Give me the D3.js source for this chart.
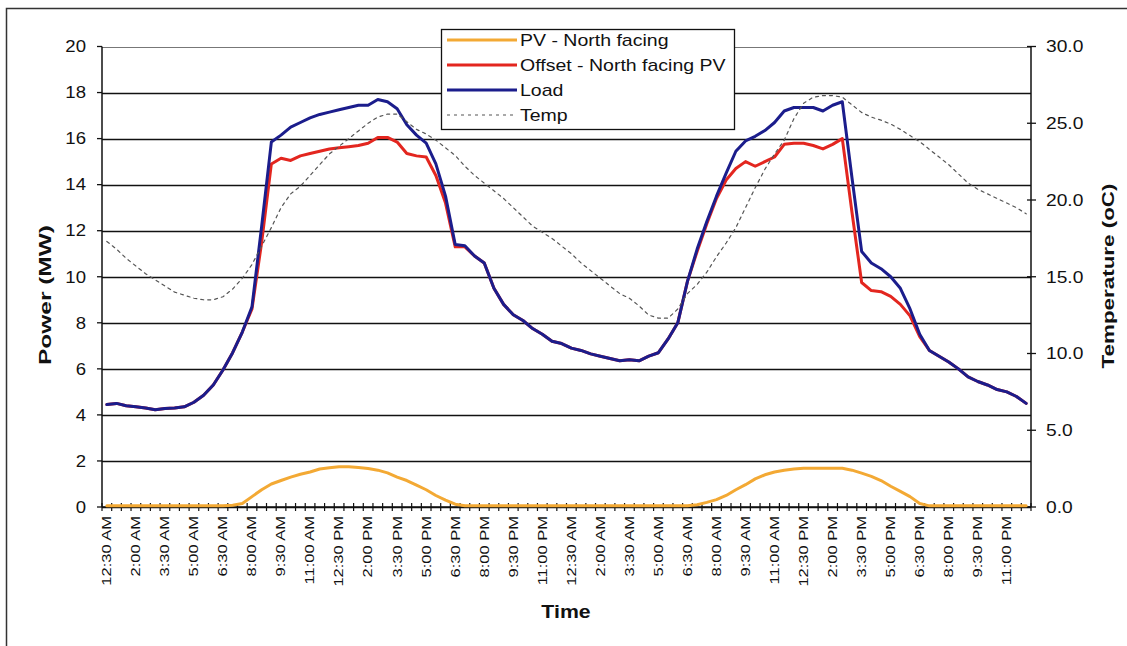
<!DOCTYPE html>
<html>
<head>
<meta charset="utf-8">
<script src="https://cdn.jsdelivr.net/npm/d3@7"></script>
<style>
  body { margin: 0; background: #fff; }
  svg { display: block; }
  text { font-family: "Liberation Sans", Arial, sans-serif; fill: #111; }
</style>
</head>
<body>
<svg id="chart" width="1127" height="646"></svg>
<script>
// Half-hourly readings over two days, starting 12:30 AM.
const tickLabels = [
  "12:30 AM", "2:00 AM", "3:30 AM", "5:00 AM", "6:30 AM", "8:00 AM", "9:30 AM", "11:00 AM",
  "12:30 PM", "2:00 PM", "3:30 PM", "5:00 PM", "6:30 PM", "8:00 PM", "9:30 PM", "11:00 PM",
  "12:30 AM", "2:00 AM", "3:30 AM", "5:00 AM", "6:30 AM", "8:00 AM", "9:30 AM", "11:00 AM",
  "12:30 PM", "2:00 PM", "3:30 PM", "5:00 PM", "6:30 PM", "8:00 PM", "9:30 PM", "11:00 PM"
];

// PV output, north facing (MW)
const pvNorth = [
  0.05, 0.05, 0.05, 0.05, 0.05, 0.05, 0.05, 0.05, 0.05, 0.05,
  0.05, 0.05, 0.05, 0.08, 0.15, 0.45, 0.75, 1.0, 1.15, 1.3,
  1.42, 1.52, 1.65, 1.7, 1.75, 1.75, 1.72, 1.67, 1.6, 1.48,
  1.3, 1.15, 0.95, 0.75, 0.5, 0.3, 0.12, 0.05, 0.05, 0.05,
  0.05, 0.05, 0.05, 0.05, 0.05, 0.05, 0.05, 0.05, 0.05, 0.05,
  0.05, 0.05, 0.05, 0.05, 0.05, 0.05, 0.05, 0.05, 0.05, 0.05,
  0.05, 0.1, 0.2, 0.32, 0.5, 0.75, 0.97, 1.22, 1.4, 1.52,
  1.6, 1.65, 1.68, 1.68, 1.68, 1.68, 1.68, 1.6, 1.47, 1.33,
  1.15, 0.9, 0.68, 0.45, 0.15, 0.05, 0.05, 0.05, 0.05, 0.05,
  0.05, 0.05, 0.05, 0.05, 0.05, 0.05
];

// Load less north facing PV (MW)
const offsetNorth = [
  4.45, 4.5, 4.4, 4.35, 4.3, 4.22, 4.28, 4.3, 4.35, 4.55,
  4.85, 5.3, 5.95, 6.7, 7.6, 8.6, 11.5, 14.9, 15.15, 15.05,
  15.25, 15.35, 15.45, 15.55, 15.6, 15.65, 15.7, 15.8, 16.05, 16.05,
  15.85, 15.35, 15.25, 15.2, 14.4, 13.2, 11.3, 11.3, 10.9, 10.6,
  9.5, 8.8, 8.35, 8.1, 7.75, 7.5, 7.2, 7.1, 6.9, 6.8,
  6.65, 6.55, 6.45, 6.35, 6.4, 6.35, 6.55, 6.7, 7.3, 8.0,
  9.8, 11.1, 12.3, 13.4, 14.2, 14.7, 15.0, 14.8, 15.0, 15.2,
  15.75, 15.8, 15.8, 15.7, 15.55, 15.75, 16.0, 12.8, 9.75, 9.4,
  9.35, 9.15, 8.8, 8.3, 7.4, 6.8, 6.55, 6.3, 6.0, 5.65,
  5.45, 5.3, 5.1, 5.0, 4.8, 4.5
];

// Total load (MW)
const load = [
  4.45, 4.5, 4.4, 4.35, 4.3, 4.22, 4.28, 4.3, 4.35, 4.55,
  4.85, 5.3, 5.95, 6.7, 7.6, 8.7, 12.2, 15.85, 16.15, 16.5,
  16.7, 16.9, 17.05, 17.15, 17.25, 17.35, 17.45, 17.45, 17.7, 17.6,
  17.3, 16.6, 16.15, 15.8, 14.9, 13.5, 11.4, 11.35, 10.9, 10.6,
  9.5, 8.8, 8.35, 8.1, 7.75, 7.5, 7.2, 7.1, 6.9, 6.8,
  6.65, 6.55, 6.45, 6.35, 6.4, 6.35, 6.55, 6.7, 7.3, 8.0,
  9.8, 11.2, 12.4, 13.5, 14.5, 15.45, 15.9, 16.1, 16.35, 16.7,
  17.2, 17.35, 17.35, 17.35, 17.2, 17.45, 17.6, 14.3, 11.1, 10.6,
  10.35, 10.0, 9.5, 8.6, 7.5, 6.8, 6.55, 6.3, 6.0, 5.65,
  5.45, 5.3, 5.1, 5.0, 4.8, 4.5
];

// Ambient temperature (oC), secondary axis
const temp = [
  17.3, 16.8, 16.2, 15.7, 15.2, 14.8, 14.4, 14.0, 13.8, 13.6,
  13.5, 13.5, 13.7, 14.2, 14.9, 15.8, 17.0, 18.2, 19.5, 20.4,
  20.9, 21.6, 22.3, 23.0, 23.5, 24.0, 24.5, 25.0, 25.4, 25.6,
  25.6, 25.1, 24.6, 24.3, 23.9, 23.4, 22.9, 22.2, 21.6, 21.1,
  20.6, 20.1, 19.5, 18.9, 18.3, 17.9, 17.5, 17.0, 16.5, 15.9,
  15.4, 14.9, 14.4, 13.9, 13.6, 13.1, 12.5, 12.3, 12.3, 12.9,
  13.9, 14.5, 15.3, 16.3, 17.2, 18.2, 19.5, 20.8, 22.0, 23.0,
  23.9, 25.3, 26.3, 26.7, 26.8, 26.8, 26.7, 26.2, 25.7, 25.4,
  25.2, 24.95, 24.6, 24.2, 23.8, 23.3, 22.8, 22.3, 21.7, 21.1,
  20.7, 20.4, 20.1, 19.8, 19.5, 19.1
];

const seriesInfo = [
  { name: "PV - North facing", values: pvNorth, color: "#f3a934", axis: "left", width: 3 },
  { name: "Offset - North facing PV", values: offsetNorth, color: "#e3261f", axis: "left", width: 3 },
  { name: "Load", values: load, color: "#1b1d8c", axis: "left", width: 3 },
  { name: "Temp", values: temp, color: "#555", axis: "right", width: 1.2, dash: "3,4" }
];

const slots = d3.range(load.length);
const labelEvery = 3;

const svg = d3.select("#chart");
const plot = { left: 102, right: 1031, top: 46.5, bottom: 507 };

const x = d3.scaleBand().domain(slots).range([plot.left, plot.right]).padding(0);
const yL = d3.scaleLinear().domain([0, 20]).range([plot.bottom, plot.top]);
const yR = d3.scaleLinear().domain([0, 30]).range([plot.bottom, plot.top]);
const cx = i => x(i) + x.bandwidth() / 2;

// outer frame
svg.append("rect")
  .attr("x", 6.5).attr("y", 8.5)
  .attr("width", 1160).attr("height", 680)
  .attr("fill", "none").attr("stroke", "#333").attr("stroke-width", 1.5);

// horizontal gridlines
svg.append("g").selectAll("line")
  .data(yL.ticks(10))
  .join("line")
  .attr("x1", plot.left).attr("x2", plot.right)
  .attr("y1", d => Math.round(yL(d)) + 0.5).attr("y2", d => Math.round(yL(d)) + 0.5)
  .attr("stroke", d => d === 20 ? "#777" : "#111")
  .attr("stroke-width", d => d === 20 ? 1 : 1.3);

// left axis
const leftAxis = svg.append("g");
leftAxis.append("line")
  .attr("x1", plot.left).attr("x2", plot.left)
  .attr("y1", plot.top).attr("y2", plot.bottom)
  .attr("stroke", "#111").attr("stroke-width", 1.5);
leftAxis.selectAll(".tk").data(yL.ticks(10)).join("line")
  .attr("class", "tk")
  .attr("x1", plot.left - 5).attr("x2", plot.left)
  .attr("y1", d => yL(d)).attr("y2", d => yL(d))
  .attr("stroke", "#111").attr("stroke-width", 1.3);
leftAxis.selectAll("text").data(yL.ticks(10)).join("text")
  .attr("transform", d => `translate(86,${yL(d)}) scale(1.16,1)`)
  .attr("dy", "0.36em")
  .attr("text-anchor", "end")
  .attr("font-size", 16)
  .text(d3.format("d"));

// right axis
const rightAxis = svg.append("g");
rightAxis.append("line")
  .attr("x1", plot.right).attr("x2", plot.right)
  .attr("y1", plot.top).attr("y2", plot.bottom)
  .attr("stroke", "#111").attr("stroke-width", 1.5);
rightAxis.selectAll(".tk").data(yR.ticks(6)).join("line")
  .attr("class", "tk")
  .attr("x1", plot.right - 4).attr("x2", plot.right + 5)
  .attr("y1", d => yR(d)).attr("y2", d => yR(d))
  .attr("stroke", "#111").attr("stroke-width", 1.3);
rightAxis.selectAll("text").data(yR.ticks(6)).join("text")
  .attr("transform", d => `translate(1046,${yR(d)}) scale(1.2,1)`)
  .attr("dy", "0.36em")
  .attr("text-anchor", "start")
  .attr("font-size", 16)
  .text(d3.format(".1f"));

// bottom axis: tick marks on slot boundaries, labels every third slot
const bottomAxis = svg.append("g");
bottomAxis.append("line")
  .attr("x1", plot.left).attr("x2", plot.right)
  .attr("y1", plot.bottom).attr("y2", plot.bottom)
  .attr("stroke", "#111").attr("stroke-width", 1.5);
const edges = slots.map(i => x(i)).concat([plot.right]);
bottomAxis.selectAll(".tk").data(edges).join("line")
  .attr("class", "tk")
  .attr("x1", d => d).attr("x2", d => d)
  .attr("y1", plot.bottom - 4).attr("y2", plot.bottom + 4)
  .attr("stroke", "#111").attr("stroke-width", 1.2);
const labelled = slots.filter(i => i % labelEvery === 0);
bottomAxis.selectAll("text").data(labelled).join("text")
  .attr("transform", i => `translate(${cx(i)},516) rotate(-90) scale(1.5,1.1)`)
  .attr("dy", "0.36em")
  .attr("text-anchor", "end")
  .attr("font-size", 11)
  .text(i => tickLabels[i / labelEvery]);

// series lines
const layer = svg.append("g");
seriesInfo.forEach(s => {
  const yScale = s.axis === "left" ? yL : yR;
  const line = d3.line().x((d, i) => cx(slots[i])).y(d => yScale(d));
  layer.append("path")
    .datum(s.values)
    .attr("d", line)
    .attr("fill", "none")
    .attr("stroke", s.color)
    .attr("stroke-width", s.width)
    .attr("stroke-linejoin", "round")
    .attr("stroke-linecap", "round")
    .attr("stroke-dasharray", s.dash || null);
});

// axis titles
svg.append("text")
  .attr("transform", "translate(51,295) rotate(-90)")
  .attr("text-anchor", "middle")
  .attr("font-size", 17).attr("font-weight", "bold")
  .attr("textLength", 140).attr("lengthAdjust", "spacingAndGlyphs")
  .text("Power (MW)");
svg.append("text")
  .attr("transform", "translate(1114,276) rotate(-90)")
  .attr("text-anchor", "middle")
  .attr("font-size", 17).attr("font-weight", "bold")
  .attr("textLength", 185).attr("lengthAdjust", "spacingAndGlyphs")
  .text("Temperature (oC)");
svg.append("text")
  .attr("transform", "translate(566,618) scale(1.12,1)")
  .attr("text-anchor", "middle")
  .attr("font-size", 19).attr("font-weight", "bold")
  .text("Time");

// legend
const legend = svg.append("g");
legend.append("rect")
  .attr("x", 441.5).attr("y", 29.5).attr("width", 293).attr("height", 100)
  .attr("fill", "#fff").attr("stroke", "#111").attr("stroke-width", 1.3);
const rows = legend.selectAll(".row").data(seriesInfo).join("g")
  .attr("class", "row")
  .attr("transform", (d, i) => `translate(0,${40 + i * 25})`);
rows.append("line")
  .attr("x1", 447).attr("x2", 517).attr("y1", 0).attr("y2", 0)
  .attr("stroke", d => d.color)
  .attr("stroke-width", d => d.width)
  .attr("stroke-dasharray", d => d.dash || null);
rows.append("text")
  .attr("transform", "translate(520,0) scale(1.22,1)")
  .attr("dy", "0.36em")
  .attr("font-size", 16)
  .text(d => d.name);
</script>
</body>
</html>
